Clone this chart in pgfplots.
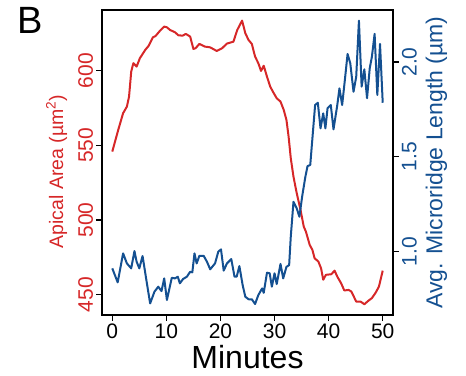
\documentclass[border=0pt]{standalone}
\usepackage{pgfplots}
\pgfplotsset{compat=1.18}
\usepackage{fontspec}
\setmainfont{Liberation Sans}
\definecolor{cred}{RGB}{214,39,40}
\definecolor{cblue}{RGB}{20,80,145}
\begin{document}
\begin{tikzpicture}
\path[use as bounding box] (-102pt,-60pt) rectangle (364pt,315pt);
\pgfplotsset{
 common/.style={width=291pt,height=305pt,scale only axis,
  xmin=-1.9,xmax=51.9,
  axis line style={line width=1.3pt},
  major tick length=5.5pt,
  every tick/.style={black,line width=1.2pt},
  tick align=outside,
  /pgf/number format/assume math mode=true,
  tick label style={font=\fontsize{21}{24}\selectfont},
  label style={font=\fontsize{19.5}{22}\selectfont}}
}
\begin{axis}[common,
  ymin=436.4,ymax=640.6,
  xtick={0,10,20,30,40,50},
  ytick={450,500,550,600},
  xtick pos=left, ytick pos=left,
  yticklabel style={rotate=90,anchor=south,text=cred},
  ylabel={Apical Area (µm\textsuperscript{2})},
  ylabel style={text=cred,at={(ticklabel cs:0.47,4pt)}},
  xlabel={Minutes},
  xlabel style={font=\fontsize{32}{36}\selectfont,inner sep=1pt},
  xlabel shift=2pt,
]
\addplot[cred,line width=2pt,line join=round] coordinates {
(0,545.8)(1.1,560.3)(2.0,571.5)(2.7,575.9)(3.1,582.6)(3.5,599.3)(3.9,605)(4.5,602.7)
(5.1,608.3)(6.1,613.9)(6.7,616.5)(7.5,622.3)(8.0,623.2)(8.8,626.6)(9.6,629.5)(10.1,629)
(10.7,627.2)(11.6,625.7)(12.2,623.7)(13.0,623.4)(13.6,624.6)(14.4,622.8)(15.0,614.5)
(15.4,615)(16.1,617.9)(17.1,616.1)(18.1,615.6)(19.3,613.2)(20.3,615)(21.2,618.1)
(22.4,619.4)(23.1,627.2)(24.0,633.5)(24.6,625)(25.2,620.5)(25.8,617.9)(26.4,609.4)
(27.0,605)(27.5,599.8)(28.0,603.3)(28.6,596)(29.2,589.3)(29.7,585.9)(30.4,581.5)
(31.1,579.3)(31.7,573.7)(32.2,567)(32.6,555.8)(33.0,541.4)(33.5,529)(34.1,518)
(34.8,506.8)(35.4,495.6)(35.8,492.2)(36.5,483.3)(37.0,480)(37.4,474.4)(38.1,472.2)
(38.6,467.7)(39.0,460)(39.5,463.3)(40.5,463.7)(41.1,466.1)(41.6,462.1)(42.3,457.7)
(42.9,452.8)(43.7,453.2)(44.2,452.1)(45.1,445.4)(45.9,445.4)(46.6,443.6)(47.4,446.1)
(48.0,447.7)(48.7,451.4)(49.3,455.4)(50.0,466.1)
};
\end{axis}
\begin{axis}[common,
  ymin=0.666,ymax=2.274,
  axis x line=none,
  axis y line*=right,
  ytick={1,1.5,2},
  yticklabel style={rotate=90,anchor=north,text=cblue,
    /pgf/number format/fixed,/pgf/number format/fixed zerofill,/pgf/number format/precision=1},
  ylabel={Avg. Microridge Length (µm)},
  ylabel style={text=cblue,font=\fontsize{23}{26}\selectfont},
  ylabel shift=2pt,
]
\addplot[cblue,line width=2pt,line join=round] coordinates {
(0,0.912)(1.0,0.838)(2.0,0.991)(2.7,0.938)(3.5,0.912)(4.1,1.003)(4.5,0.947)(5.0,0.912)
(5.6,0.977)(6.4,0.833)(7.0,0.727)(7.8,0.789)(8.5,0.815)(9.1,0.792)(9.6,0.859)(10.1,0.745)
(11.0,0.862)(11.6,0.859)(12.1,0.868)(12.5,0.833)(13.1,0.856)(13.8,0.868)(14.4,0.894)
(14.8,0.891)(15.2,0.991)(15.6,0.938)(16.1,0.978)(16.9,0.978)(17.5,0.947)(18.1,0.907)
(19.0,0.938)(19.6,1.0)(20.1,1.012)(20.6,0.9)(21.2,0.938)(22.0,0.961)(22.6,0.868)
(23.0,0.868)(23.5,0.924)(24.1,0.824)(24.6,0.762)(25.2,0.749)(25.8,0.749)(26.4,0.724)
(27.0,0.771)(27.7,0.806)(28.0,0.783)(28.6,0.889)(29.1,0.886)(29.5,0.815)(30.0,0.886)
(30.4,0.829)(31.1,0.935)(31.6,0.859)(32.2,0.92)(32.7,0.929)(33.0,1.079)(33.5,1.263)
(34.1,1.228)(34.6,1.184)(35.1,1.29)(35.7,1.395)(36.1,1.451)(36.6,1.457)(37.5,1.773)
(38.0,1.785)(38.5,1.65)(39.0,1.729)(39.4,1.65)(39.8,1.756)(40.4,1.773)(40.9,1.645)
(41.6,1.773)(42.0,1.861)(42.5,1.773)(43.0,1.905)(43.5,2.042)(44.0,1.993)(44.6,1.843)
(45.1,1.922)(45.6,2.218)(46.1,1.87)(46.6,1.961)(47.1,1.809)(47.6,1.967)(48.0,2.028)
(48.5,2.148)(49.0,1.826)(49.5,2.095)(50.0,1.785)
};
\end{axis}
\node[anchor=north west,font=\fontsize{38}{40}\selectfont,inner sep=0pt] at (-85pt,308pt) {B};
\end{tikzpicture}
\end{document}
